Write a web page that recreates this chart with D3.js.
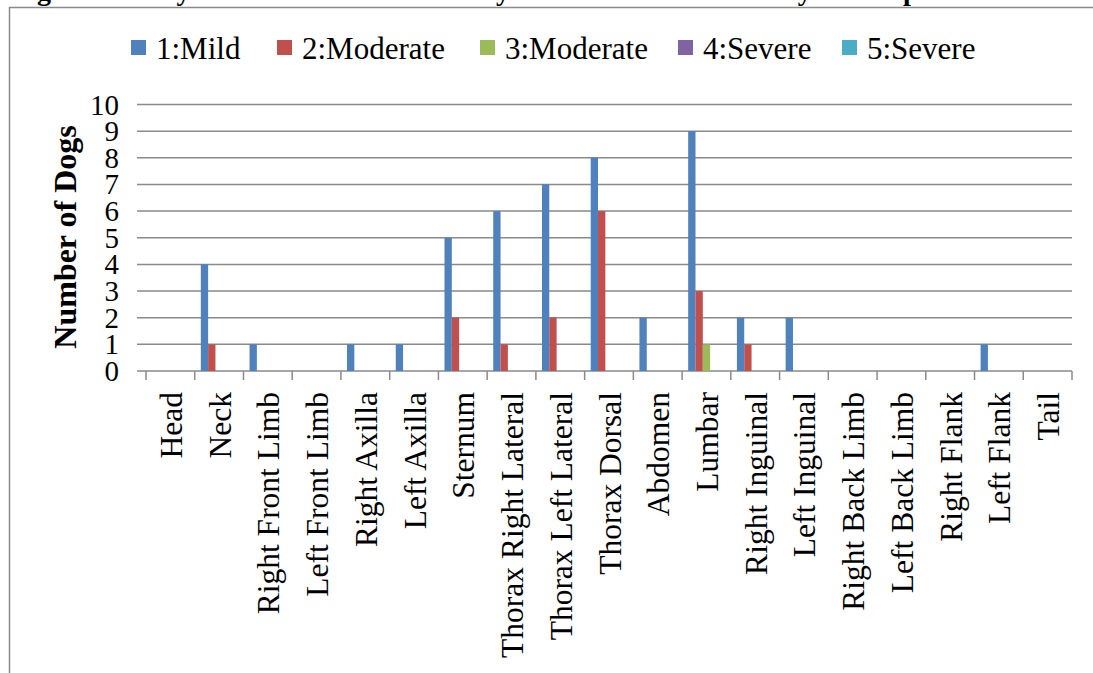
<!DOCTYPE html>
<html>
<head>
<meta charset="utf-8">
<script src="https://cdn.jsdelivr.net/npm/d3@7"></script>
<style>
  html, body { margin: 0; padding: 0; background: #fff; }
  svg { display: block; }
  text { font-family: "Liberation Serif", "Times New Roman", serif; fill: #000; }
</style>
</head>
<body>
<svg id="chart" width="1093" height="673"></svg>
<script>
const categories = ["Head", "Neck", "Right Front Limb", "Left Front Limb", "Right Axilla", "Left Axilla",
  "Sternum", "Thorax Right Lateral", "Thorax Left Lateral", "Thorax Dorsal", "Abdomen", "Lumbar",
  "Right Inguinal", "Left Inguinal", "Right Back Limb", "Left Back Limb", "Right Flank", "Left Flank", "Tail"];
const seriesNames = ["1:Mild", "2:Moderate", "3:Moderate", "4:Severe", "5:Severe"];
const mild      = [0, 4, 1, 0, 1, 1, 5, 6, 7, 8, 2, 9, 2, 2, 0, 0, 0, 1, 0];
const moderate2 = [0, 1, 0, 0, 0, 0, 2, 1, 2, 6, 0, 3, 1, 0, 0, 0, 0, 0, 0];
const moderate3 = [0, 0, 0, 0, 0, 0, 0, 0, 0, 0, 0, 1, 0, 0, 0, 0, 0, 0, 0];
const severe4   = [0, 0, 0, 0, 0, 0, 0, 0, 0, 0, 0, 0, 0, 0, 0, 0, 0, 0, 0];
const severe5   = [0, 0, 0, 0, 0, 0, 0, 0, 0, 0, 0, 0, 0, 0, 0, 0, 0, 0, 0];
const seriesValues = [mild, moderate2, moderate3, severe4, severe5];
const yTicks = [0, 1, 2, 3, 4, 5, 6, 7, 8, 9, 10];
const colors = ["#4F81BD", "#C0504D", "#9BBB59", "#8064A2", "#4BACC6"];
const yTitle = "Number of Dogs";
const figTitle = "Figure 1: Body Location of Pain Noted by Owners and the Severity Scores per Location";

(function () {
const svg = d3.select("#chart");
const plotL = 146, plotR = 1072, plotT = 104.5, plotB = 371;

// Partially visible figure caption above the chart box (cut off in the source)
svg.append("text")
  .attr("x", 12).attr("y", 0)
  .attr("font-size", 28).attr("font-weight", "bold")
  .text(figTitle);

// Chart box border (left and top edges visible)
svg.append("path")
  .attr("d", "M9.5,673 L9.5,7.5 L1093,7.5")
  .attr("fill", "none").attr("stroke", "#8a8a8a").attr("stroke-width", 1.5);

const x = d3.scaleBand().domain(categories).range([plotL, plotR]).paddingInner(0).paddingOuter(0);
const x1 = d3.scaleBand().domain(seriesNames).range([0, x.bandwidth()]).paddingInner(0).paddingOuter(0.83);
const y = d3.scaleLinear().domain([0, 10]).range([plotB, plotT]);

// gridlines
svg.append("g").selectAll("line").data(yTicks).join("line")
  .attr("x1", plotL - 9).attr("x2", plotR)
  .attr("y1", d => y(d)).attr("y2", d => y(d))
  .attr("stroke", "#8a8a8a").attr("stroke-width", 1.5);

// y tick labels
svg.append("g").selectAll("text").data(yTicks).join("text")
  .attr("x", 119).attr("y", d => y(d) + 10)
  .attr("text-anchor", "end")
  .attr("font-size", 29)
  .text(d => d);

// x-axis tick marks at category boundaries
const bounds = categories.map(c => x(c)).concat([plotR]);
svg.append("g").selectAll("line").data(bounds).join("line")
  .attr("x1", d => d).attr("x2", d => d)
  .attr("y1", plotB).attr("y2", plotB + 9)
  .attr("stroke", "#8a8a8a").attr("stroke-width", 1.5);

// bars
const barData = [];
seriesValues.forEach((vals, si) => {
  vals.forEach((v, ci) => barData.push({ s: seriesNames[si], si, c: categories[ci], v }));
});
svg.append("g").selectAll("rect").data(barData.filter(d => d.v > 0)).join("rect")
  .attr("x", d => x(d.c) + x1(d.s))
  .attr("width", x1.bandwidth())
  .attr("y", d => y(d.v))
  .attr("height", d => y(0) - y(d.v))
  .attr("fill", d => colors[d.si]);

// category labels
svg.append("g").selectAll("text").data(categories).join("text")
  .attr("transform", d => `translate(${x(d) + x.bandwidth() / 2 + 1},392) rotate(-90)`)
  .attr("text-anchor", "end").attr("dominant-baseline", "central")
  .attr("font-size", 31.5)
  .text(d => d);

// y title
svg.append("text")
  .attr("transform", "translate(65,237) rotate(-90)")
  .attr("text-anchor", "middle").attr("dominant-baseline", "central")
  .attr("font-size", 32).attr("font-weight", "bold")
  .text(yTitle);

// legend
const legendX = [131, 277, 480, 678, 842];
const lg = svg.append("g").selectAll("g").data(seriesNames).join("g")
  .attr("transform", (d, i) => `translate(${legendX[i]},48)`);
lg.append("rect").attr("x", 0).attr("y", -8).attr("width", 15).attr("height", 15)
  .attr("fill", (d, i) => colors[i]);
lg.append("text").attr("x", 25).attr("y", 0)
  .attr("dominant-baseline", "central").attr("font-size", 31)
  .text(d => d);
})();
</script>
</body>
</html>
